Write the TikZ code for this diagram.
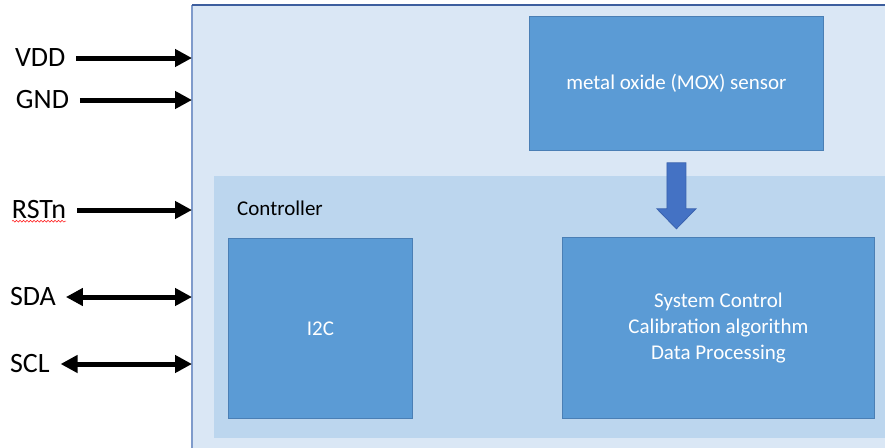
\documentclass[tikz,border=0pt]{standalone}
\usepackage{fontspec}
\setmainfont{Carlito}
\usepackage{tikz}
\usetikzlibrary{arrows.meta,decorations.pathmorphing}

\definecolor{chipfill}{HTML}{DAE7F5}
\definecolor{chipleft}{HTML}{7F9BCB}
\definecolor{chiptop}{HTML}{3D5E9E}
\definecolor{ctrlfill}{HTML}{BCD6EE}
\definecolor{blockfill}{HTML}{5B9BD5}
\definecolor{blockline}{HTML}{4A7FB5}
\definecolor{flowfill}{HTML}{4472C4}
\definecolor{flowline}{HTML}{3A62AE}

\begin{document}
\begin{tikzpicture}[x=1pt,y=-1pt,
  sig/.style={font=\fontsize{28}{30}\selectfont,inner sep=0pt,outer sep=0pt,anchor=west},
  pin/.style={line width=5pt,-{Triangle[length=17pt,width=17pt]}},
  bipin/.style={line width=5pt,{Triangle[length=17pt,width=17pt]}-{Triangle[length=17pt,width=17pt]}},
  block/.style={draw=blockline,fill=blockfill,line width=0.8pt,inner sep=0pt,anchor=north west,
    text=white,font=\fontsize{21}{26}\selectfont,align=center}]

\useasboundingbox (0,0) rectangle (885,447);
\clip (0,0) rectangle (885,447);

% chip and controller area
\node [fill=chipfill,inner sep=0pt,anchor=north west,minimum width=720pt,minimum height=460pt] (chip) at (192,5) {};
\draw [draw=chipleft,line width=1.5pt] (chip.south west) -- (chip.north west);
\draw [draw=chiptop,line width=1.5pt] (chip.north west) -- (chip.north east);
\node [fill=ctrlfill,inner sep=0pt,anchor=north west,minimum width=700pt,minimum height=262pt] (ctrl) at (214,176) {};
\node [anchor=west,inner sep=0pt,font=\fontsize{21}{24}\selectfont] (ctrltitle) at (237,208) {Controller};

% blocks
\node [block,minimum width=294pt,minimum height=134pt] (mox) at (529,16) {metal oxide (MOX) sensor};
\node [block,minimum width=184pt,minimum height=180pt] (i2c) at (228,238) {I2C};
\node [block,minimum width=312pt,minimum height=181pt] (sys) at (562,237) {System Control\\Calibration algorithm\\Data Processing};

% flow from sensor to processing
\coordinate (flow) at ([yshift=-12pt]mox.south);
\draw [draw=flowline,fill=flowfill,line width=0.8pt]
  (flow) ++(-9.5,0) -- ++(19,0) -- ++(0,46) -- ++(10,0) -- ++(-19.5,20) -- ++(-19.5,-20) -- ++(10,0) -- cycle;

% pins
\node [sig] (vdd) at (15,58) {VDD};
\node [sig] (gnd) at (16,100) {GND};
\node [sig] (rstn) at (12,210) {RSTn};
\node [sig] (sda) at (10,297) {SDA};
\node [sig] (scl) at (10,364) {SCL};

\draw [pin] ([xshift=11pt]vdd.east) -- (vdd.east -| chip.west);
\draw [pin] ([xshift=11pt]gnd.east) -- (gnd.east -| chip.west);
\draw [pin] ([xshift=11pt]rstn.east) -- (rstn.east -| chip.west);
\draw [bipin] ([xshift=10pt]sda.east) -- (sda.east -| chip.west);
\draw [bipin] ([xshift=11pt]scl.east) -- (scl.east -| chip.west);

\draw [red!85!white,line width=0.6pt,decorate,decoration={snake,amplitude=0.9pt,segment length=3.5pt}]
  ([yshift=-2pt]rstn.south west) -- ([yshift=-2pt]rstn.south east);
\end{tikzpicture}
\end{document}
